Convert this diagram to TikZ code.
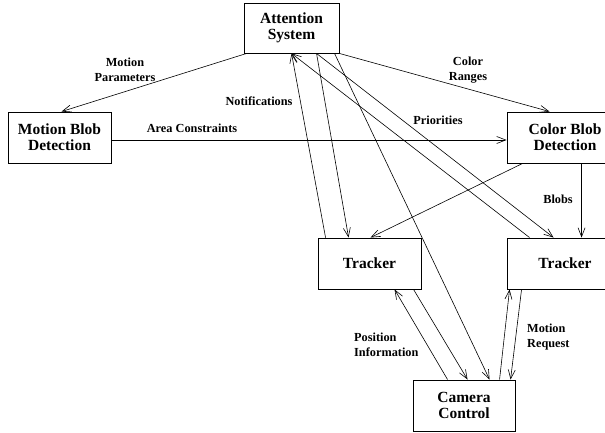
\documentclass[tikz,border=0pt]{standalone}
\usepackage{fontspec}
\setmainfont{Liberation Serif}
\usetikzlibrary{arrows.meta,calc}
\begin{document}
\begin{tikzpicture}[x=1pt,y=-1pt,
  box/.style={draw,line width=0.9pt,inner sep=0pt,align=center,font=\fontsize{15.5}{16}\selectfont\bfseries},
  lbl/.style={inner sep=0pt,font=\fontsize{12.3}{15}\selectfont\bfseries},
  conn/.style={line width=0.6pt,-{Straight Barb[length=9pt,width=7pt,line width=0.6pt]}}]
\useasboundingbox (0,0) rectangle (605,433);
\node[box,minimum width=95pt,minimum height=50pt] (att) at (291.5,28) {Attention\\System};
\node[box,minimum width=103pt,minimum height=51pt] (mbd) at (59.5,137.5) {Motion Blob\\Detection};
\node[box,minimum width=116pt,minimum height=51pt] (cbd) at (565,137.5) {Color Blob\\Detection};
\node[box,minimum width=103pt,minimum height=51pt] (tr1) at (369.5,263.5) {Tracker};
\node[box,minimum width=116pt,minimum height=51pt] (tr2) at (565,263.5) {Tracker};
\node[box,minimum width=102pt,minimum height=51pt] (cam) at (464,405.5) {Camera\\Control};

\draw[conn] ($(att.south west)+(3,0)$) -- ($(mbd.north west)+(54,0)$);
\draw[conn] (att.south east) -- ($(cbd.north west)+(43,0)$);
\draw[conn] ($(mbd.east)+(0,2.5)$) -- ($(cbd.west)+(0,2.5)$);
\draw[conn] ($(tr1.north west)+(8,0)$) -- ($(att.south west)+(48,0)$);
\draw[conn] ($(att.south west)+(73,0)$) -- ($(tr1.north west)+(31,0)$);
\draw[conn] ($(att.south west)+(73,0)$) -- ($(tr2.north west)+(47,0)$);
\draw[conn] ($(att.south west)+(91,0)$) -- ($(cam.north west)+(77,0)$);
\draw[conn] ($(tr2.north west)+(23,0)$) -- ($(att.south west)+(48,0)$);
\draw[conn] ($(cbd.south west)+(16,0)$) -- ($(tr1.north west)+(53,0)$);
\draw[conn] ($(cbd.south west)+(75,0)$) -- ($(tr2.north west)+(75,0)$);
\draw[conn] ($(cam.north west)+(35,0)$) -- ($(tr1.south west)+(77,0)$);
\draw[conn] ($(tr1.south west)+(96,0)$) -- ($(cam.north west)+(55,0)$);
\draw[conn] ($(cam.north west)+(87,0)$) -- ($(tr2.south west)+(3,0)$);
\draw[conn] ($(tr2.south west)+(15,0)$) -- ($(cam.north west)+(98,0)$);

\node[lbl,align=center] (lmp) at (125,70) {Motion\\Parameters};
\node[lbl,align=center] (lcr) at (468,70) {Color\\Ranges};
\node[lbl] (lac) at (192,128) {Area Constraints};
\node[lbl] (lno) at (259,101) {Notifications};
\node[lbl] (lpr) at (438,120) {Priorities};
\node[lbl] (lbl) at (558,199) {Blobs};
\node[lbl,align=left,anchor=west] (lpi) at (354,344.5) {Position\\Information};
\node[lbl,align=left,anchor=west] (lmr) at (527,337) {Motion\\Request};
\end{tikzpicture}
\end{document}
